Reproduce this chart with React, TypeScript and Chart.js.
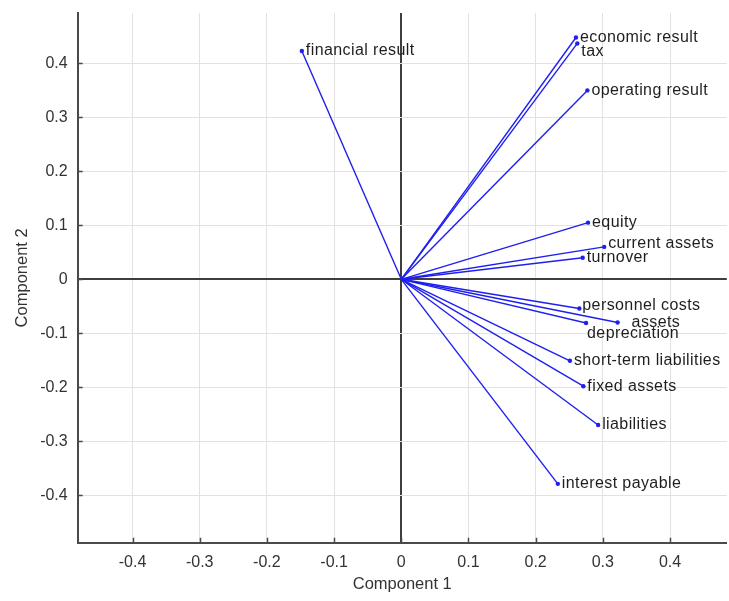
import React, { useEffect, useRef } from "react";
import { Chart, registerables } from "chart.js";

Chart.register(...registerables);

// Variable names (biplot vectors)
const variables = [
  "financial result",
  "economic result",
  "tax",
  "operating result",
  "equity",
  "current assets",
  "turnover",
  "personnel costs",
  "assets",
  "depreciation",
  "short-term liabilities",
  "fixed assets",
  "liabilities",
  "interest payable",
];

// Loadings on Component 1
const component1 = [
  -0.148, 0.26, 0.262, 0.277, 0.278, 0.302, 0.27, 0.265, 0.322, 0.275, 0.251, 0.271, 0.293, 0.233,
];

// Loadings on Component 2
const component2 = [
  0.423, 0.448, 0.437, 0.35, 0.105, 0.06, 0.04, -0.054, -0.08, -0.081, -0.151, -0.198, -0.27, -0.379,
];

// Tick values and labels
const xTickValues = [-0.4, -0.3, -0.2, -0.1, 0, 0.1, 0.2, 0.3, 0.4];
const yTickValues = [-0.4, -0.3, -0.2, -0.1, 0, 0.1, 0.2, 0.3, 0.4];
const tickLabels = ["-0.4", "-0.3", "-0.2", "-0.1", "0", "0.1", "0.2", "0.3", "0.4"];

const xTitle = "Component 1";
const yTitle = "Component 2";

// label placement tweaks (pixels) for overlapping labels
const labelOffsets: Record<string, [number, number]> = {
  tax: [4, 8],
  assets: [14, 0],
  depreciation: [1, 11],
  "current assets": [4, -3],
  "personnel costs": [3, -3],
};

const FONT = "'Liberation Sans', Arial, Helvetica, sans-serif";
const AXIS_COLOR = "#4a4a4a";
const GRID_COLOR = "#e2e2e2";
const LINE_COLOR = "#1f1fee";

function labelFor(v: number): string {
  const idx = xTickValues.findIndex((t) => Math.abs(t - v) < 1e-9);
  return idx >= 0 ? tickLabels[idx] : "";
}

export default function App() {
  const canvasRef = useRef<HTMLCanvasElement | null>(null);

  useEffect(() => {
    const canvas = canvasRef.current;
    if (!canvas) return;

    const datasets = variables.map((name, i) => ({
      label: name,
      data: [
        { x: 0, y: 0 },
        { x: component1[i], y: component2[i] },
      ],
      showLine: true,
      borderColor: LINE_COLOR,
      backgroundColor: LINE_COLOR,
      borderWidth: 1.4,
      pointRadius: (ctx: any) => (ctx.dataIndex === 0 ? 0 : 2.2),
      pointBorderWidth: 0,
      pointHoverRadius: 2.2,
    }));

    const pointLabels = {
      id: "pointLabels",
      afterDatasetsDraw(chart: any) {
        const { ctx } = chart;
        const xs = chart.scales.x;
        const ys = chart.scales.y;
        ctx.save();
        ctx.font = `16px ${FONT}`;
        try {
          (ctx as any).letterSpacing = "0.4px";
        } catch (e) {}
        ctx.fillStyle = "#1e1e1e";
        ctx.textAlign = "left";
        ctx.textBaseline = "middle";
        variables.forEach((name, i) => {
          const off = labelOffsets[name] || [4, 0];
          const px = xs.getPixelForValue(component1[i]) + off[0];
          const py = ys.getPixelForValue(component2[i]) + off[1];
          ctx.fillText(name, px, py);
        });
        ctx.restore();
      },
    };

    const innerTicks = {
      id: "innerTicks",
      afterDraw(chart: any) {
        const { ctx, chartArea } = chart;
        const xs = chart.scales.x;
        const ys = chart.scales.y;
        ctx.save();
        ctx.strokeStyle = AXIS_COLOR;
        ctx.lineWidth = 1.5;
        ctx.beginPath();
        xTickValues.forEach((v) => {
          const px = Math.round(xs.getPixelForValue(v)) + 0.5;
          ctx.moveTo(px, chartArea.bottom);
          ctx.lineTo(px, chartArea.bottom - 5);
        });
        yTickValues.forEach((v) => {
          const py = Math.round(ys.getPixelForValue(v)) + 0.5;
          ctx.moveTo(chartArea.left, py);
          ctx.lineTo(chartArea.left + 5, py);
        });
        ctx.stroke();
        ctx.restore();
      },
    };

    const gridColor = (c: any) =>
      c.tick && Math.abs(c.tick.value) < 1e-9 ? "#3e3e3e" : GRID_COLOR;
    const gridWidth = (c: any) => (c.tick && Math.abs(c.tick.value) < 1e-9 ? 2 : 1);

    const chart = new Chart(canvas, {
      type: "scatter",
      data: { datasets: datasets as any },
      options: {
        animation: false,
        responsive: false,
        maintainAspectRatio: false,
        layout: { padding: { top: 13, right: 0, left: 0, bottom: 0 } },
        plugins: {
          legend: { display: false },
          tooltip: { enabled: false },
        },
        scales: {
          x: {
            type: "linear",
            min: -0.4816,
            max: 0.4845,
            afterBuildTicks: (scale: any) => {
              scale.ticks = xTickValues.map((v) => ({ value: v }));
            },
            afterFit: (scale: any) => {
              scale.height = 58.3;
              scale.paddingLeft = 0;
              scale.paddingRight = 0;
            },
            grid: { color: gridColor, lineWidth: gridWidth, drawTicks: false },
            border: { display: true, color: AXIS_COLOR, width: 2 },
            ticks: {
              padding: 10,
              color: "#333333",
              font: { family: FONT, size: 16 },
              maxRotation: 0,
              autoSkip: false,
              callback: (v: any) => labelFor(Number(v)),
            },
            title: {
              display: true,
              text: xTitle,
              color: "#333333",
              font: { family: FONT, size: 16.5 },
              padding: { top: 0, bottom: 7 },
            },
          },
          y: {
            type: "linear",
            min: -0.488,
            max: 0.4934,
            afterBuildTicks: (scale: any) => {
              scale.ticks = yTickValues.map((v) => ({ value: v }));
            },
            afterFit: (scale: any) => {
              scale.width = 77.7;
              scale.paddingTop = 0;
              scale.paddingBottom = 0;
            },
            grid: { color: gridColor, lineWidth: gridWidth, drawTicks: false },
            border: { display: true, color: AXIS_COLOR, width: 2 },
            ticks: {
              padding: 10,
              color: "#333333",
              font: { family: FONT, size: 16 },
              autoSkip: false,
              callback: (v: any) => labelFor(Number(v)),
            },
            title: {
              display: true,
              text: yTitle,
              color: "#333333",
              font: { family: FONT, size: 16.5 },
              padding: { top: 13, bottom: 0 },
            },
          },
        },
      },
      plugins: [pointLabels, innerTicks],
    });

    return () => {
      chart.destroy();
    };
  }, []);

  return (
    <div
      style={{
        position: "fixed",
        left: 0,
        top: 0,
        width: 729,
        height: 601,
        background: "#ffffff",
      }}
    >
      <canvas ref={canvasRef} width={729} height={601} style={{ width: 729, height: 601 }} />
    </div>
  );
}
